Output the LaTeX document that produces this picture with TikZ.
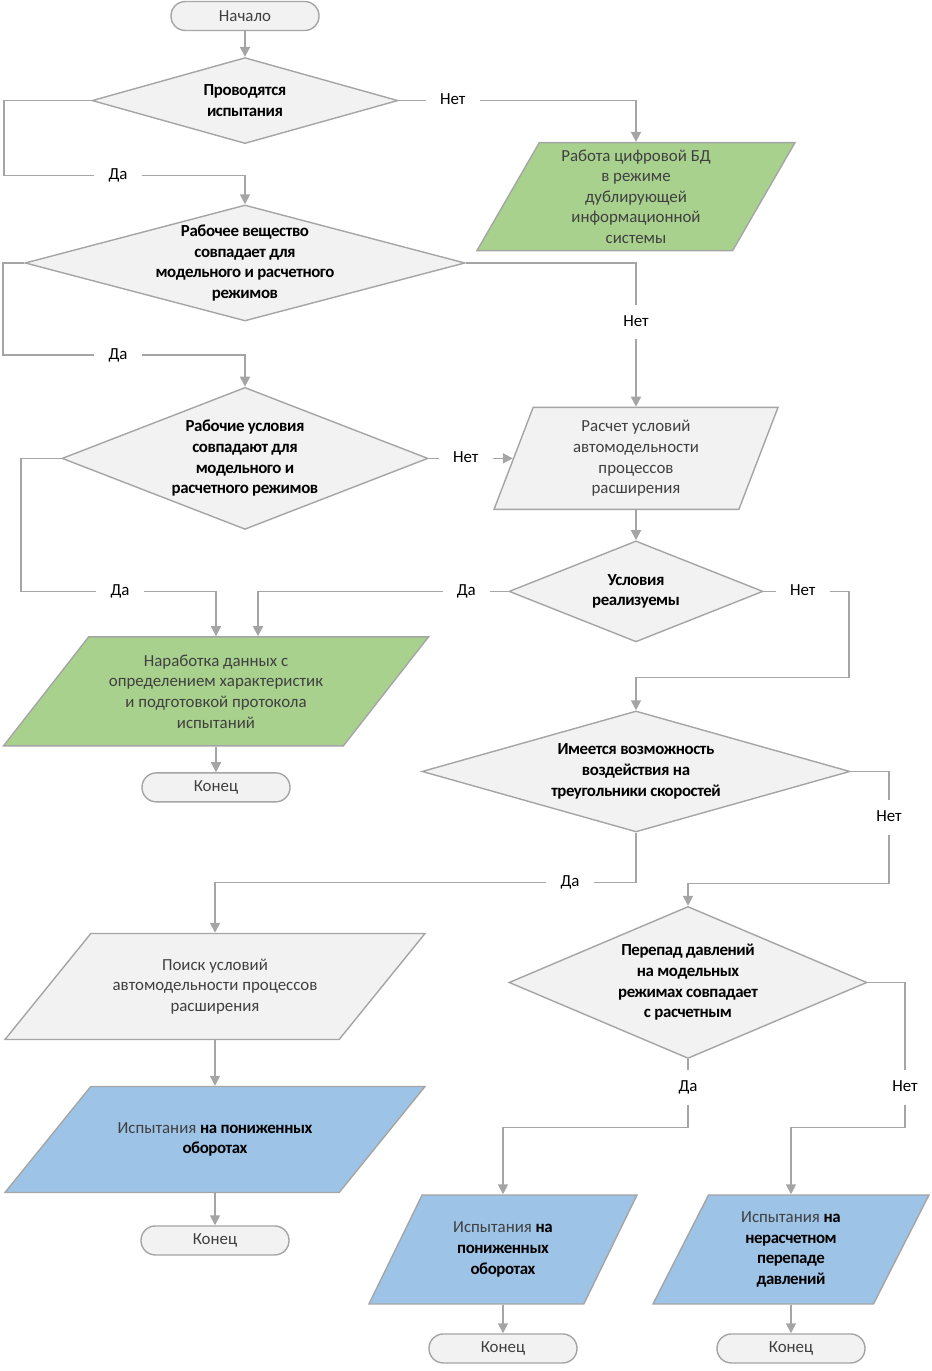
\documentclass[tikz,border=0pt]{standalone}
\usepackage{fontspec}
\setmainfont{Carlito}
\newfontfamily\decfont[LetterSpace=-2.5]{Carlito}
\usepackage{xcolor}
\usepackage{tikz}
\usetikzlibrary{shapes.geometric, arrows.meta, positioning, calc}

\definecolor{linegray}{HTML}{A5A5A5}
\definecolor{shapefill}{HTML}{F2F2F2}
\definecolor{greenfill}{HTML}{A9D18E}
\definecolor{bluefill}{HTML}{9DC3E6}
\definecolor{textgray}{HTML}{404040}

\newcommand{\boldpart}[1]{{\decfont\bfseries\color{black}#1}}

\begin{document}
\begin{tikzpicture}[
    font=\fontsize{14.4}{17.6}\selectfont,
    term/.style={rectangle, rounded corners=0.43cm, draw=linegray, fill=shapefill, line width=1.2pt, minimum width=4.44cm, minimum height=0.87cm, text=textgray},
    decision/.style={diamond, draw=linegray, fill=shapefill, line width=1.2pt, inner sep=0pt},
    dectext/.style={font=\fontsize{14.4}{17.6}\selectfont\decfont\bfseries, align=center, text=black},
    io/.style={trapezium, trapezium left angle=#1, trapezium right angle={180-#1}, trapezium stretches body, draw=linegray, line width=1.2pt, inner sep=0pt},
    iohalf/.style={text height=#1, text depth=#1},
    iotext/.style={align=center, text=textgray},
    lbl/.style={inner xsep=0.42cm, inner ysep=0.33cm, text height=0.3cm, text depth=0.05cm},
    arrow/.style={-{Triangle[length=0.3cm, width=0.3cm]}, line width=1.5pt, draw=linegray},
    conn/.style={line width=1.5pt, draw=linegray}
]
    \useasboundingbox (0,0) rectangle (27.93,-41.13);

    % Left column
    \node[term] (start) at (7.35,-0.48) {Начало};
    \node[decision, minimum width=9.18cm, minimum height=2.58cm, below=0.77cm of start,
        label={[dectext]center:{Проводятся\\испытания}}] (d1) {};
    \node[decision, minimum width=13.2cm, minimum height=3.48cm, below=1.8cm of d1,
        label={[dectext]center:{Рабочее вещество\\совпадает для\\модельного и расчетного\\режимов}}] (d2) {};
    \node[decision, minimum width=10.98cm, minimum height=4.26cm, below=1.95cm of d2,
        label={[dectext]center:{Рабочие условия\\совпадают для\\модельного и\\расчетного режимов}}] (d3) {};
    \node[io=52, fill=greenfill, minimum width=12.75cm, iohalf=1.635cm,
        label={[iotext]center:{Наработка данных с\\определением характеристик\\и подготовкой протокола\\испытаний}}] (p3) at ([xshift=-0.87cm, yshift=-6.99cm]d3) {};
    \node[term] (end1) at ([yshift=-2.88cm]p3) {Конец};

    % Right column
    \node[io=60, fill=greenfill, minimum width=9.54cm, iohalf=1.62cm,
        label={[iotext]center:{Работа цифровой БД\\в режиме\\дублирующей\\информационной\\системы}}] (p1) at ([xshift=11.73cm, yshift=-2.88cm]d1) {};
    \node[io=69, fill=shapefill, minimum width=8.52cm, iohalf=1.53cm,
        label={[iotext]center:{Расчет условий\\автомодельности\\процессов\\расширения}}] (p2) at ([xshift=11.73cm]d3) {};
    \node[decision, minimum width=7.62cm, minimum height=3.03cm,
        label={[dectext]center:{Условия\\реализуемы}}] (d4) at ([yshift=-3.99cm]p2) {};
    \node[decision, minimum width=12.84cm, minimum height=3.63cm, below=2.03cm of d4,
        label={[dectext]center:{Имеется возможность\\воздействия на\\треугольники скоростей}}] (d5) {};
    \node[decision, minimum width=10.74cm, minimum height=4.56cm,
        label={[dectext]center:{Перепад давлений\\на модельных\\режимах совпадает\\с расчетным}}] (d6) at ([xshift=1.56cm, yshift=-6.33cm]d5) {};

    % Bottom part
    \node[io=51, fill=shapefill, minimum width=12.6cm, iohalf=1.59cm,
        label={[iotext]center:{Поиск условий\\автомодельности процессов\\расширения}}] (p4) at ([xshift=-12.63cm, yshift=-6.45cm]d5) {};
    \node[io=51, fill=bluefill, minimum width=12.6cm, iohalf=1.59cm,
        label={[iotext]center:{Испытания \boldpart{на пониженных}\\\boldpart{оборотах}}}] (p5) at ([yshift=-4.59cm]p4) {};
    \node[term] (end2) at ([yshift=-3.03cm]p5) {Конец};
    \node[io=64, fill=bluefill, minimum width=8.04cm, iohalf=1.635cm,
        label={[iotext]center:{Испытания \boldpart{на}\\\boldpart{пониженных}\\\boldpart{оборотах}}}] (p6) at ([xshift=-5.55cm, yshift=-8.01cm]d6) {};
    \node[io=63, fill=bluefill, minimum width=8.28cm, iohalf=1.635cm,
        label={[iotext]center:{Испытания \boldpart{на}\\\boldpart{нерасчетном}\\\boldpart{перепаде}\\\boldpart{давлений}}}] (p7) at ([xshift=3.09cm, yshift=-8.01cm]d6) {};
    \node[term] (end3) at ([yshift=-2.97cm]p6) {Конец};
    \node[term] (end4) at ([yshift=-2.97cm]p7) {Конец};

    % Branch labels
    \node[lbl] (net1) at ([xshift=1.62cm]d1.east) {Нет};
    \node[lbl] (da1) at ([xshift=-3.81cm, yshift=-2.25cm]d1) {Да};
    \node[lbl] (net2) at ([xshift=11.73cm, yshift=-1.77cm]d2) {Нет};
    \node[lbl] (da2) at ([xshift=-3.81cm, yshift=-2.76cm]d2) {Да};
    \node[lbl] (net3) at ([xshift=1.11cm]d3.east) {Нет};
    \node[lbl] (da3) at ([xshift=-3.75cm, yshift=-3.99cm]d3) {Да};
    \node[lbl] (da4) at ([xshift=-1.26cm]d4.west) {Да};
    \node[lbl] (net4) at ([xshift=1.17cm]d4.east) {Нет};
    \node[lbl] (net5) at ([xshift=7.59cm, yshift=-1.38cm]d5) {Нет};
    \node[lbl] (da5) at ([xshift=-1.98cm, yshift=-3.33cm]d5) {Да};
    \node[lbl] (da6) at ([yshift=-3.15cm]d6) {Да};
    \node[lbl] (net6) at ([xshift=6.51cm, yshift=-3.15cm]d6) {Нет};

    \coordinate (c4) at ([xshift=6.39cm, yshift=-2.58cm]d4);
    \coordinate (c5) at ([yshift=-1.98cm]net5.center);
    \coordinate (c6) at ([yshift=-1.2cm]da6.center);
    \coordinate (c7) at ([yshift=-1.2cm]net6.center);

    % Arrows
    \draw[arrow] (start) -- (d1);
    \draw[conn] (d1.east) -- (net1);
    \draw[arrow] (net1) -| (p1);
    \draw[conn] (d1.west) -- ++(-2.61cm,0) |- (da1);
    \draw[arrow] (da1) -| (d2);
    \draw[conn] (d2.east) -| (net2);
    \draw[arrow] (net2) -- (p2);
    \draw[conn] (d2.west) -- ++(-0.63cm,0) |- (da2);
    \draw[arrow] (da2) -| (d3);
    \draw[conn] (d3.east) -- (net3);
    \draw[arrow] (net3) -- (p2);
    \draw[conn] (d3.west) -- ++(-1.2cm,0) |- (da3);
    \draw[arrow] (da3) -| (p3);
    \draw[arrow] (p3) -- (end1);
    \draw[arrow] (p2) -- (d4);
    \draw[conn] (d4.west) -- (da4);
    \draw[arrow] (da4) -| ([xshift=1.26cm]p3.center |- p3.north);
    \draw[conn] (d4.east) -- (net4);
    \draw[arrow] (net4) -| (c4) -| (d5);
    \draw[conn] (d5.east) -| (net5);
    \draw[arrow] (net5) -- (c5) -| (d6);
    \draw[conn] (d5.south) |- (da5);
    \draw[arrow] (da5) -| (p4);
    \draw[arrow] (p4) -- (p5);
    \draw[arrow] (p5) -- (end2);
    \draw[conn] (d6.south) -- (da6);
    \draw[arrow] (da6) -- (c6) -| (p6);
    \draw[conn] (d6.east) -| (net6);
    \draw[arrow] (net6) -- (c7) -| (p7);
    \draw[arrow] (p6) -- (end3);
    \draw[arrow] (p7) -- (end4);
\end{tikzpicture}
\end{document}
